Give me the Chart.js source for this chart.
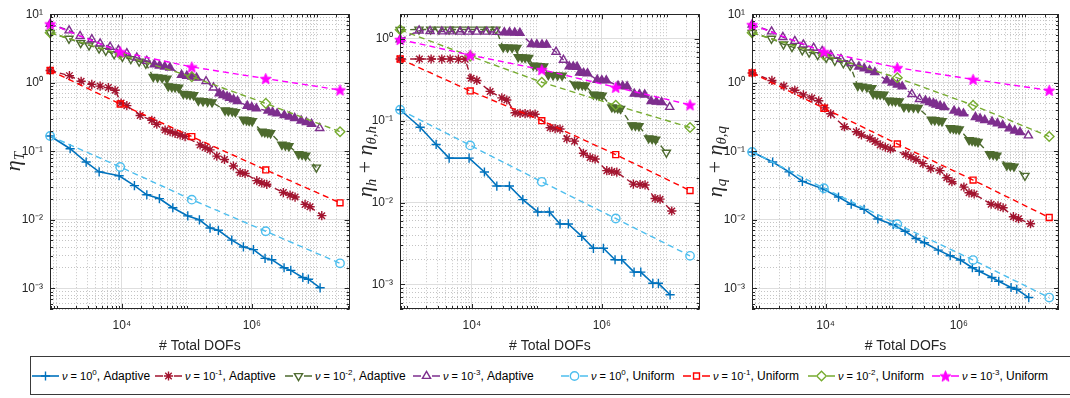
<!DOCTYPE html>
<html>
<head>
<meta charset="utf-8">
<title>Estimators vs total DOFs</title>
<script src="https://cdn.jsdelivr.net/npm/chart.js@4.4.1/dist/chart.umd.min.js"></script>
<style>
  html, body { margin: 0; padding: 0; background: #fff; }
  body { width: 1070px; height: 398px; position: relative; overflow: hidden;
         font-family: "Liberation Sans", Arial, Helvetica, sans-serif; }
  canvas.panel { position: absolute; top: 0; }
  #legend { position: absolute; left: 30px; top: 356px; width: 1060px; height: 39px;
            box-sizing: border-box; border: 1px solid #3a3a3a; background: #fff; }
  .entry { position: absolute; top: 0; height: 37px; display: flex; align-items: center;
           font-size: 12px; color: #000; white-space: nowrap; }
  .entry canvas { margin-right: 3px; }
  .entry .nu { font-size: 11px; }
  .entry sup { font-size: 8px; vertical-align: 5px; line-height: 0; }
</style>
</head>
<body>
<canvas id="c1" class="panel" width="357" height="356" style="left:0px"></canvas>
<canvas id="c2" class="panel" width="350" height="356" style="left:357px"></canvas>
<canvas id="c3" class="panel" width="363" height="356" style="left:707px"></canvas>
<div id="legend"></div>
<script>
// ---- mesh sizes (total DOFs) ----
const dofUniform = [789, 9440, 119400, 1640000, 22800000];
const dofAdapt0 = [789, 1603, 2825, 4480, 9080, 15630, 24250, 37850, 60950, 103500, 156300, 228000,
  306000, 492000, 743000, 1060000, 1600000, 2030000, 3140000, 3980000, 6100000, 7430000, 11250000];
const dofAdapt1 = [789, 1563, 2366, 3453, 4637, 6220, 7890, 9750, 11940, 19140, 28970, 34550, 46340,
  55330, 66070, 78890, 94190, 160200, 191400, 228000, 289700, 380200, 521200, 660700, 788900,
  1194000, 1426000, 1702000, 3062000, 3882000, 4634000, 6607000, 7889000, 11940000];
const dofAdapt2 = [789, 1538, 2328, 3126, 4467, 5662, 7603, 10210, 13770, 18490, 23440,
  30410, 35480, 41690, 49430, 51760, 58880, 66070, 74820, 88310, 100000, 112200, 127400,
  150300, 177800, 208900, 244900, 388200, 436500, 501200, 559800, 744700, 831800, 912000, 1014000,
  1429000, 1585000, 1758000, 1945000, 2904000, 3289000, 3724000, 5260000, 5957000, 6745000, 9863000];
const dofAdapt3 = [789, 1545, 2280, 3451, 4634, 6607, 8872, 11940, 17020, 24270,
  31620, 38020, 45710, 54950, 83180, 100000, 120200, 141300, 197700, 257000,
  316200, 363100, 416900, 457100, 524800, 602600, 851100, 1000000, 1175000,
  1778000, 2089000, 2455000, 3162000, 3802000, 4571000, 5754000, 6918000, 8318000, 11090000];

// ---- eta_T ----
const tAdapt0 = [0.167, 0.109, 0.0697, 0.0501, 0.044, 0.0316, 0.0232, 0.0204, 0.015, 0.0114, 0.01, 0.00759,
  0.00703, 0.00506, 0.00402, 0.00368, 0.00274, 0.00262, 0.002, 0.00183, 0.00144, 0.00136, 0.00102];
const tAdapt1 = [1.51, 1.27, 1.05, 0.946, 0.894, 0.849, 0.776, 0.506, 0.463, 0.333, 0.283, 0.248, 0.204,
  0.193, 0.183, 0.173, 0.164, 0.124, 0.114, 0.105, 0.085, 0.076, 0.061, 0.049, 0.0474,
  0.0373, 0.0345, 0.033, 0.025, 0.023, 0.0215, 0.0168, 0.0155, 0.0115];
const tAdapt2 = [5.35, 4.4, 3.8, 3.52, 3.16, 2.93, 2.62, 2.4, 2.22, 2.04, 1.9,
  1.22, 1.2, 1.18, 1.15, 0.89, 0.87, 0.86, 0.85, 0.69, 0.68, 0.67, 0.66,
  0.55, 0.54, 0.53, 0.52, 0.395, 0.388, 0.382, 0.375, 0.29, 0.285, 0.28, 0.275,
  0.194, 0.19, 0.187, 0.184, 0.125, 0.122, 0.119, 0.091, 0.089, 0.087, 0.058];
const tAdapt3 = [7.2, 5.77, 4.79, 4.29, 3.73, 3.33, 2.99, 2.68, 2.32, 2.08,
  1.85, 1.78, 1.72, 1.66, 1.3, 1.26, 1.22, 1.18, 1.05, 0.849,
  0.7, 0.66, 0.63, 0.6, 0.57, 0.54, 0.46, 0.44, 0.42,
  0.39, 0.37, 0.355, 0.335, 0.32, 0.305, 0.28, 0.265, 0.25, 0.218];
const tUnif0 = [0.167, 0.059, 0.0197, 0.00681, 0.00232];
const tUnif1 = [1.51, 0.49, 0.164, 0.0535, 0.0177];
const tUnif2 = [5.35, 2.6, 1.22, 0.5, 0.193];
const tUnif3 = [7.2, 2.83, 1.7, 1.15, 0.784];

// ---- eta_h + eta_theta,h ----
const hAdapt0 = [0.136, 0.0832, 0.0512, 0.0349, 0.0349, 0.0236, 0.0159, 0.0159, 0.01086, 0.00767, 0.00767,
  0.00547, 0.00547, 0.00386, 0.00276, 0.00276, 0.002, 0.002, 0.00141, 0.00141, 0.00103, 0.00103, 0.000746];
const hAdapt1 = [0.567, 0.567, 0.567, 0.566, 0.566, 0.565, 0.565, 0.33, 0.31, 0.228, 0.19, 0.179, 0.125,
  0.123, 0.122, 0.121, 0.12, 0.082, 0.08, 0.079, 0.06, 0.0562, 0.04, 0.0356, 0.034,
  0.0245, 0.024, 0.0235, 0.0168, 0.0166, 0.0164, 0.0112, 0.011, 0.00788];
const hAdapt2 = [1.29, 1.3, 1.3, 1.3, 1.3, 1.3, 1.3, 1.3, 1.3, 1.3, 1.3,
  0.79, 0.785, 0.78, 0.775, 0.6, 0.595, 0.59, 0.585, 0.472, 0.468, 0.465, 0.462,
  0.362, 0.36, 0.357, 0.355, 0.276, 0.273, 0.271, 0.269, 0.209, 0.207, 0.205, 0.203,
  0.146, 0.144, 0.142, 0.14, 0.088, 0.087, 0.086, 0.061, 0.06, 0.059, 0.0408];
const hAdapt3 = [0.98, 1.26, 1.24, 1.23, 1.23, 1.22, 1.22, 1.22, 1.22, 1.21,
  1.2, 1.2, 1.19, 1.18, 0.86, 0.855, 0.85, 0.845, 0.692, 0.552,
  0.46, 0.458, 0.455, 0.385, 0.382, 0.378, 0.315, 0.312, 0.31,
  0.267, 0.264, 0.262, 0.213, 0.21, 0.208, 0.173, 0.17, 0.168, 0.147];
const hUnif0 = [0.136, 0.0499, 0.0179, 0.00638, 0.00223];
const hUnif1 = [0.567, 0.231, 0.1, 0.0385, 0.014];
const hUnif2 = [1.29, 0.615, 0.295, 0.154, 0.0826];
const hUnif3 = [0.98, 0.633, 0.42, 0.256, 0.156];

// ---- eta_q + eta_theta,q ----
const qAdapt0 = [0.0977, 0.0697, 0.0501, 0.0364, 0.0283, 0.0215, 0.0169, 0.0142, 0.0103, 0.00849, 0.00681,
  0.00535, 0.00463, 0.00361, 0.00299, 0.00259, 0.002, 0.00178, 0.00144, 0.00127, 0.00103, 0.00097, 0.000734];
const qAdapt1 = [1.39, 1.08, 0.894, 0.776, 0.665, 0.597, 0.546, 0.43, 0.352, 0.228, 0.193, 0.173, 0.155,
  0.139, 0.124, 0.115, 0.108, 0.0894, 0.083, 0.0759, 0.066, 0.056, 0.0523, 0.041, 0.036,
  0.03, 0.0248, 0.0238, 0.0169, 0.016, 0.015, 0.0111, 0.0104, 0.00877];
const qAdapt2 = [5.35, 4.4, 3.64, 3.33, 2.99, 2.77, 2.54, 2.32, 2.1, 1.93, 1.77,
  0.9, 0.88, 0.86, 0.84, 0.69, 0.68, 0.675, 0.67, 0.55, 0.545, 0.54, 0.535,
  0.445, 0.44, 0.435, 0.43, 0.29, 0.285, 0.28, 0.275, 0.218, 0.215, 0.212, 0.209,
  0.146, 0.143, 0.14, 0.137, 0.091, 0.089, 0.087, 0.062, 0.061, 0.06, 0.044];
const qAdapt3 = [7.03, 5.58, 4.63, 4.06, 3.61, 3.23, 2.89, 2.54, 2.22, 1.93,
  1.72, 1.62, 1.52, 1.42, 1.08, 1.0, 0.94, 0.88, 0.68, 0.577,
  0.55, 0.52, 0.5, 0.48, 0.46, 0.44, 0.39, 0.37, 0.355,
  0.315, 0.3, 0.285, 0.27, 0.255, 0.24, 0.215, 0.2, 0.19, 0.17];
const qUnif0 = [0.0977, 0.0289, 0.00865, 0.00259, 0.000734];
const qUnif1 = [1.39, 0.425, 0.128, 0.038, 0.0108];
const qUnif2 = [5.35, 2.54, 1.18, 0.47, 0.164];
const qUnif3 = [7.03, 2.83, 1.66, 1.12, 0.776];

// legend text pieces
const nuExponents = ['0', '-1', '-2', '-3'];
const runKinds = ['Adaptive', 'Uniform'];
const xTitle = '# Total DOFs';

const FONT = '"Liberation Sans", Arial, Helvetica, sans-serif';
Chart.defaults.font.family = FONT;

// filled magenta pentagram used as a point style
function pentagram(color, r) {
  const size = Math.ceil(2 * r + 3);
  const c = document.createElement('canvas');
  c.width = c.height = size;
  const g = c.getContext('2d');
  g.beginPath();
  for (let k = 0; k < 10; k++) {
    const rr = k % 2 ? r * 0.42 : r;
    const a = -Math.PI / 2 + k * Math.PI / 5;
    const px = size / 2 + rr * Math.cos(a), py = size / 2 + 0.6 + rr * Math.sin(a);
    if (k) g.lineTo(px, py); else g.moveTo(px, py);
  }
  g.closePath();
  g.fillStyle = color; g.fill();
  g.strokeStyle = color; g.lineWidth = 1; g.stroke();
  return c;
}

const styles = [
  { color: '#0072BD', point: 'cross', radius: 4.6, dash: [], width: 1.6 },
  { color: '#A2142F', point: 'star', radius: 4.6, dash: [6, 4] },
  { color: '#4E6B2F', point: 'triangle', rot: 180, radius: 4.7, dash: [6, 4], fillDense: true },
  { color: '#7E2F8E', point: 'triangle', radius: 4.7, dash: [6, 4], fillDense: true },
  { color: '#4DBEEE', point: 'circle', radius: 4.2, dash: [6, 4] },
  { color: '#FF0000', point: 'rect', radius: 4.2, dash: [6, 4] },
  { color: '#77AC30', point: 'rectRot', radius: 4.8, dash: [6, 4] },
  { color: '#FF00FF', point: pentagram('#FF00FF', 5.8), radius: 6, dash: [6, 4] }
];

// markers packed tighter than ~0.09 decades merge into a solid band
function packed(xs, i) {
  const l = Math.log10(xs[i]);
  const prev = i > 0 ? l - Math.log10(xs[i - 1]) : Infinity;
  const next = i < xs.length - 1 ? Math.log10(xs[i + 1]) - l : Infinity;
  return Math.min(prev, next) < 0.09;
}

function datasets(ys) {
  const xs = [dofAdapt0, dofAdapt1, dofAdapt2, dofAdapt3, dofUniform, dofUniform, dofUniform, dofUniform];
  return ys.map((y, i) => {
    const s = styles[i];
    return {
      label: 'nu=10^' + nuExponents[i % 4] + ' ' + runKinds[i < 4 ? 0 : 1],
      data: xs[i].map((x, k) => ({ x, y: y[k] })),
      borderColor: s.color,
      backgroundColor: s.color,
      borderWidth: s.width || 1.4,
      borderDash: s.dash,
      pointStyle: s.point,
      pointRotation: s.rot || 0,
      pointRadius: s.radius,
      pointHoverRadius: s.radius,
      pointBorderWidth: 1.4,
      pointBorderColor: s.color,
      pointBackgroundColor: ctx => (s.fillDense && packed(xs[i], ctx.dataIndex)) ? s.color : 'rgba(0,0,0,0)',
      tension: 0,
      fill: false,
      clip: false,
      order: 8 - i
    };
  });
}

const SUP = { '0': '⁰', '1': '¹', '2': '²', '3': '³', '4': '⁴', '5': '⁵', '6': '⁶', '7': '⁷', '8': '⁸', '9': '⁹', '-': '⁻' };
const pow10 = e => '10' + String(e).split('').map(c => SUP[c]).join('');

function logTicks(min, max, labelled) {
  const out = [];
  for (let e = Math.floor(Math.log10(min)); e <= Math.ceil(Math.log10(max)); e++) {
    for (let m = 1; m <= 9; m++) {
      const v = m * Math.pow(10, e);
      if (v >= min * 0.999 && v <= max * 1.001) out.push({ value: v, exp: e, lab: m === 1 && labelled(e) });
    }
  }
  return out;
}

// axes box with inward tick marks
const frame = {
  id: 'frame',
  afterDraw(chart) {
    const { ctx, chartArea: a, scales } = chart;
    ctx.save();
    ctx.strokeStyle = '#262626';
    ctx.lineWidth = 1;
    ctx.beginPath();
    scales.x.ticks.forEach(t => {
      const p = Math.round(scales.x.getPixelForValue(t.value)) + 0.5;
      const len = t.lab ? 5 : 3;
      ctx.moveTo(p, a.bottom); ctx.lineTo(p, a.bottom - len);
      ctx.moveTo(p, a.top); ctx.lineTo(p, a.top + len);
    });
    scales.y.ticks.forEach(t => {
      const p = Math.round(scales.y.getPixelForValue(t.value)) + 0.5;
      const len = t.lab ? 5 : 3;
      ctx.moveTo(a.left, p); ctx.lineTo(a.left + len, p);
      ctx.moveTo(a.right, p); ctx.lineTo(a.right - len, p);
    });
    ctx.stroke();
    ctx.strokeRect(Math.round(a.left) + 0.5, Math.round(a.top) + 0.5, Math.round(a.width) - 1, Math.round(a.height) - 1);
    ctx.restore();
  }
};

// rotated y label with subscripts
function yLabel(parts, base) {
  return {
    id: 'yLabel',
    afterDraw(chart) {
      const { ctx, chartArea: a } = chart;
      const fonts = {
        m: 'italic 22px "Liberation Serif", "DejaVu Serif", serif',
        s: 'italic 15px "Liberation Serif", "DejaVu Serif", serif',
        r: '22px "Liberation Serif", "DejaVu Serif", serif'
      };
      ctx.save();
      let total = 0;
      parts.forEach(([t, k]) => { ctx.font = fonts[k]; total += ctx.measureText(t).width; });
      ctx.translate(base, (a.top + a.bottom) / 2);
      ctx.rotate(-Math.PI / 2);
      ctx.fillStyle = '#262626';
      let x = -total / 2;
      parts.forEach(([t, k]) => {
        ctx.font = fonts[k];
        ctx.fillText(t, x, k === 's' ? 4 : 0);
        x += ctx.measureText(t).width;
      });
      ctx.restore();
    }
  };
}

function panel(id, ys, yMax, yAxisWidth, rightPad, label, labelBase) {
  const xList = logTicks(785, 3.2e7, e => e === 4 || e === 6);
  const yList = logTicks(5e-4, yMax, () => true);
  const gridColor = ctx => (ctx.tick && ctx.tick.lab) ? '#dedede' : '#c4c4c4';
  const gridDash = ctx => (ctx.tick && !ctx.tick.lab) ? [1, 2] : [];
  const tickLabel = (v, i, ticks) => ticks[i] && ticks[i].lab ? pow10(ticks[i].exp) : '';
  new Chart(document.getElementById(id), {
    type: 'line',
    data: { datasets: datasets(ys) },
    options: {
      responsive: false,
      animation: false,
      layout: { padding: { top: 8, right: rightPad, bottom: 0, left: 0 } },
      plugins: { legend: { display: false }, tooltip: { enabled: false } },
      scales: {
        x: {
          type: 'logarithmic', min: 785, max: 3.2e7, bounds: 'data',
          afterBuildTicks: s => { s.ticks = xList.map(t => ({ ...t })); },
          afterFit: s => { s.height = 47; },
          ticks: { autoSkip: false, maxRotation: 0, minRotation: 0, padding: 9, color: '#262626',
                   font: { size: 12 }, callback: tickLabel },
          grid: { drawTicks: false, color: gridColor, lineWidth: 1 },
          border: { display: false, dash: gridDash },
          title: { display: true, text: xTitle, color: '#262626', font: { size: 14 }, padding: { top: 0, bottom: 1 } }
        },
        y: {
          type: 'logarithmic', min: 5e-4, max: yMax, bounds: 'data',
          afterBuildTicks: s => { s.ticks = yList.map(t => ({ ...t })); },
          afterFit: s => { s.width = yAxisWidth; },
          ticks: { autoSkip: false, padding: 7, color: '#262626', font: { size: 12 }, callback: tickLabel },
          grid: { drawTicks: false, color: gridColor, lineWidth: 1 },
          border: { display: false, dash: gridDash }
        }
      }
    },
    plugins: [frame, yLabel(label, labelBase)]
  });
}

panel('c1', [tAdapt0, tAdapt1, tAdapt2, tAdapt3, tUnif0, tUnif1, tUnif2, tUnif3], 10, 50, 7,
  [['η', 'm'], ['T', 's']], 20);
panel('c2', [hAdapt0, hAdapt1, hAdapt2, hAdapt3, hUnif0, hUnif1, hUnif2, hUnif3], 2, 43, 6,
  [['η', 'm'], ['h', 's'], [' + ', 'r'], ['η', 'm'], ['θ,h', 's']], 15);
panel('c3', [qAdapt0, qAdapt1, qAdapt2, qAdapt3, qUnif0, qUnif1, qUnif2, qUnif3], 10, 45, 11,
  [['η', 'm'], ['q', 's'], [' + ', 'r'], ['η', 'm'], ['θ,q', 's']], 15);

// shared legend row
const legendLeft = [1, 124, 254, 382, 530, 652, 777, 901];
const legend = document.getElementById('legend');
styles.forEach((s, i) => {
  const item = document.createElement('div');
  item.className = 'entry';
  item.style.left = legendLeft[i] + 'px';
  const c = document.createElement('canvas');
  c.width = 27; c.height = 14;
  const g = c.getContext('2d');
  g.strokeStyle = s.color;
  g.lineWidth = s.width || 1.4;
  g.beginPath();
  if (s.dash.length) { g.moveTo(0, 7); g.lineTo(8, 7); g.moveTo(19, 7); g.lineTo(27, 7); }
  else { g.moveTo(0, 7); g.lineTo(27, 7); }
  g.stroke();
  g.lineWidth = 1.4;
  g.fillStyle = 'rgba(0,0,0,0)';
  if (Chart.helpers && Chart.helpers.drawPoint) {
    Chart.helpers.drawPoint(g, { pointStyle: s.point, rotation: s.rot || 0, radius: s.radius, borderWidth: 1.4 }, 13.5, 7);
  }
  item.appendChild(c);
  const txt = document.createElement('span');
  txt.innerHTML = '<span class="nu"><i>ν</i> = 10<sup>' + nuExponents[i % 4] + '</sup></span>, ' + runKinds[i < 4 ? 0 : 1];
  item.appendChild(txt);
  legend.appendChild(item);
});
</script>
</body>
</html>
